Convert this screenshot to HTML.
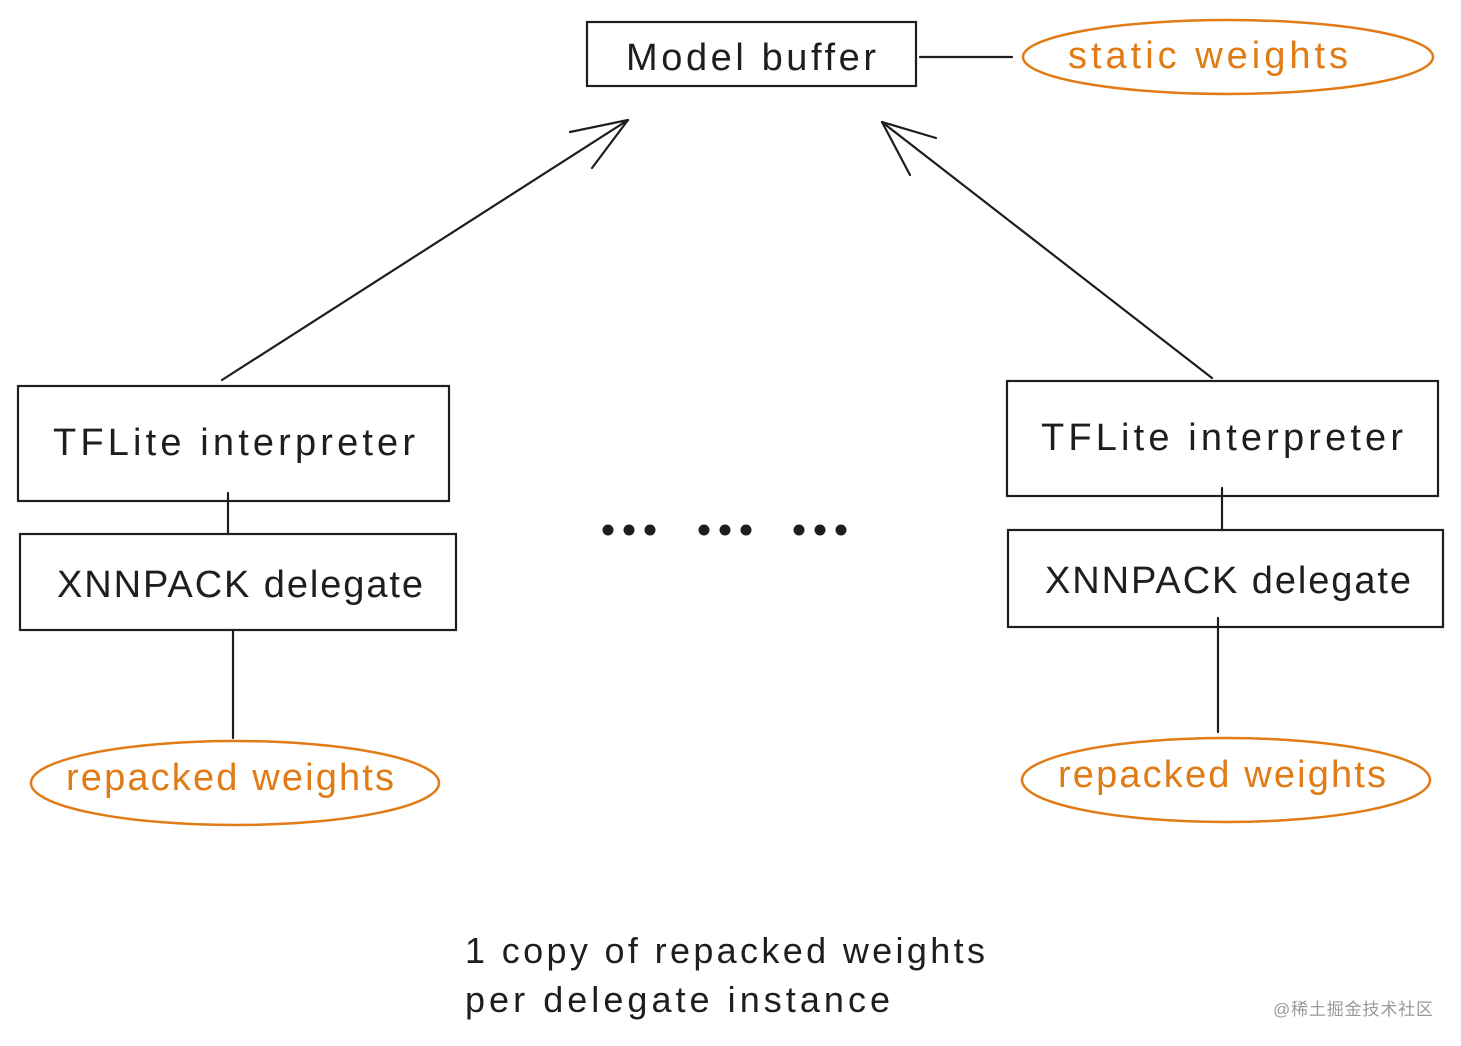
<!DOCTYPE html>
<html><head><meta charset="utf-8"><style>
html,body{margin:0;padding:0;background:#fff;}
svg{display:block}
text{font-family:"Liberation Sans","Noto Sans CJK SC",sans-serif;}
</style></head><body>
<svg width="1461" height="1046" viewBox="0 0 1461 1046" xmlns="http://www.w3.org/2000/svg">
<g fill="none" stroke="#1e1e1e" stroke-width="2.2" stroke-linecap="round">
<rect x="587" y="22" width="329" height="64"/>
<line x1="920" y1="57" x2="1012" y2="57"/>
<line x1="222" y1="380" x2="628" y2="120"/>
<line x1="628" y1="120" x2="570" y2="132"/>
<line x1="628" y1="120" x2="592" y2="168"/>
<line x1="1212" y1="378" x2="882" y2="122"/>
<line x1="882" y1="122" x2="936" y2="138"/>
<line x1="882" y1="122" x2="910" y2="175"/>
<rect x="18" y="386" width="431" height="115"/>
<rect x="20" y="534" width="436" height="96"/>
<line x1="228" y1="493" x2="228" y2="534"/>
<line x1="233" y1="630" x2="233" y2="738"/>
<rect x="1007" y="381" width="431" height="115"/>
<rect x="1008" y="530" width="435" height="97"/>
<line x1="1222" y1="488" x2="1222" y2="530"/>
<line x1="1218" y1="618" x2="1218" y2="732"/>
</g>
<g fill="none" stroke="#e07b16" stroke-width="2.5">
<ellipse cx="1228" cy="57" rx="205" ry="37"/>
<ellipse cx="235" cy="783" rx="204" ry="42"/>
<ellipse cx="1226" cy="780" rx="204" ry="42"/>
</g>
<g fill="#1e1e1e">
<circle cx="608" cy="530" r="5.5"/><circle cx="629" cy="530" r="5.5"/><circle cx="650" cy="530" r="5.5"/>
<circle cx="704" cy="530" r="5.5"/><circle cx="725" cy="530" r="5.5"/><circle cx="746" cy="530" r="5.5"/>
<circle cx="799" cy="530" r="5.5"/><circle cx="820" cy="530" r="5.5"/><circle cx="841" cy="530" r="5.5"/>
</g>
<g fill="#1e1e1e" font-size="38">
<text x="751" y="70" text-anchor="middle" textLength="250">Model buffer</text>
<text x="234" y="455" text-anchor="middle" textLength="362">TFLite interpreter</text>
<text x="240" y="597" text-anchor="middle" textLength="366">XNNPACK delegate</text>
<text x="1222" y="450" text-anchor="middle" textLength="362">TFLite interpreter</text>
<text x="1228" y="593" text-anchor="middle" textLength="366">XNNPACK delegate</text>
</g>
<g fill="#1e1e1e" font-size="36">
<text x="465" y="963" textLength="520">1 copy of repacked weights</text>
<text x="465" y="1012" textLength="425">per delegate instance</text>
</g>
<g fill="#e07b16" font-size="38">
<text x="1208" y="68" text-anchor="middle" textLength="280">static weights</text>
<text x="230" y="790" text-anchor="middle" textLength="328">repacked weights</text>
<text x="1222" y="787" text-anchor="middle" textLength="328">repacked weights</text>
</g>
<text x="1273" y="1015" font-size="17" fill="#9a9a9a" textLength="160">@稀土掘金技术社区</text>
</svg>
</body></html>
